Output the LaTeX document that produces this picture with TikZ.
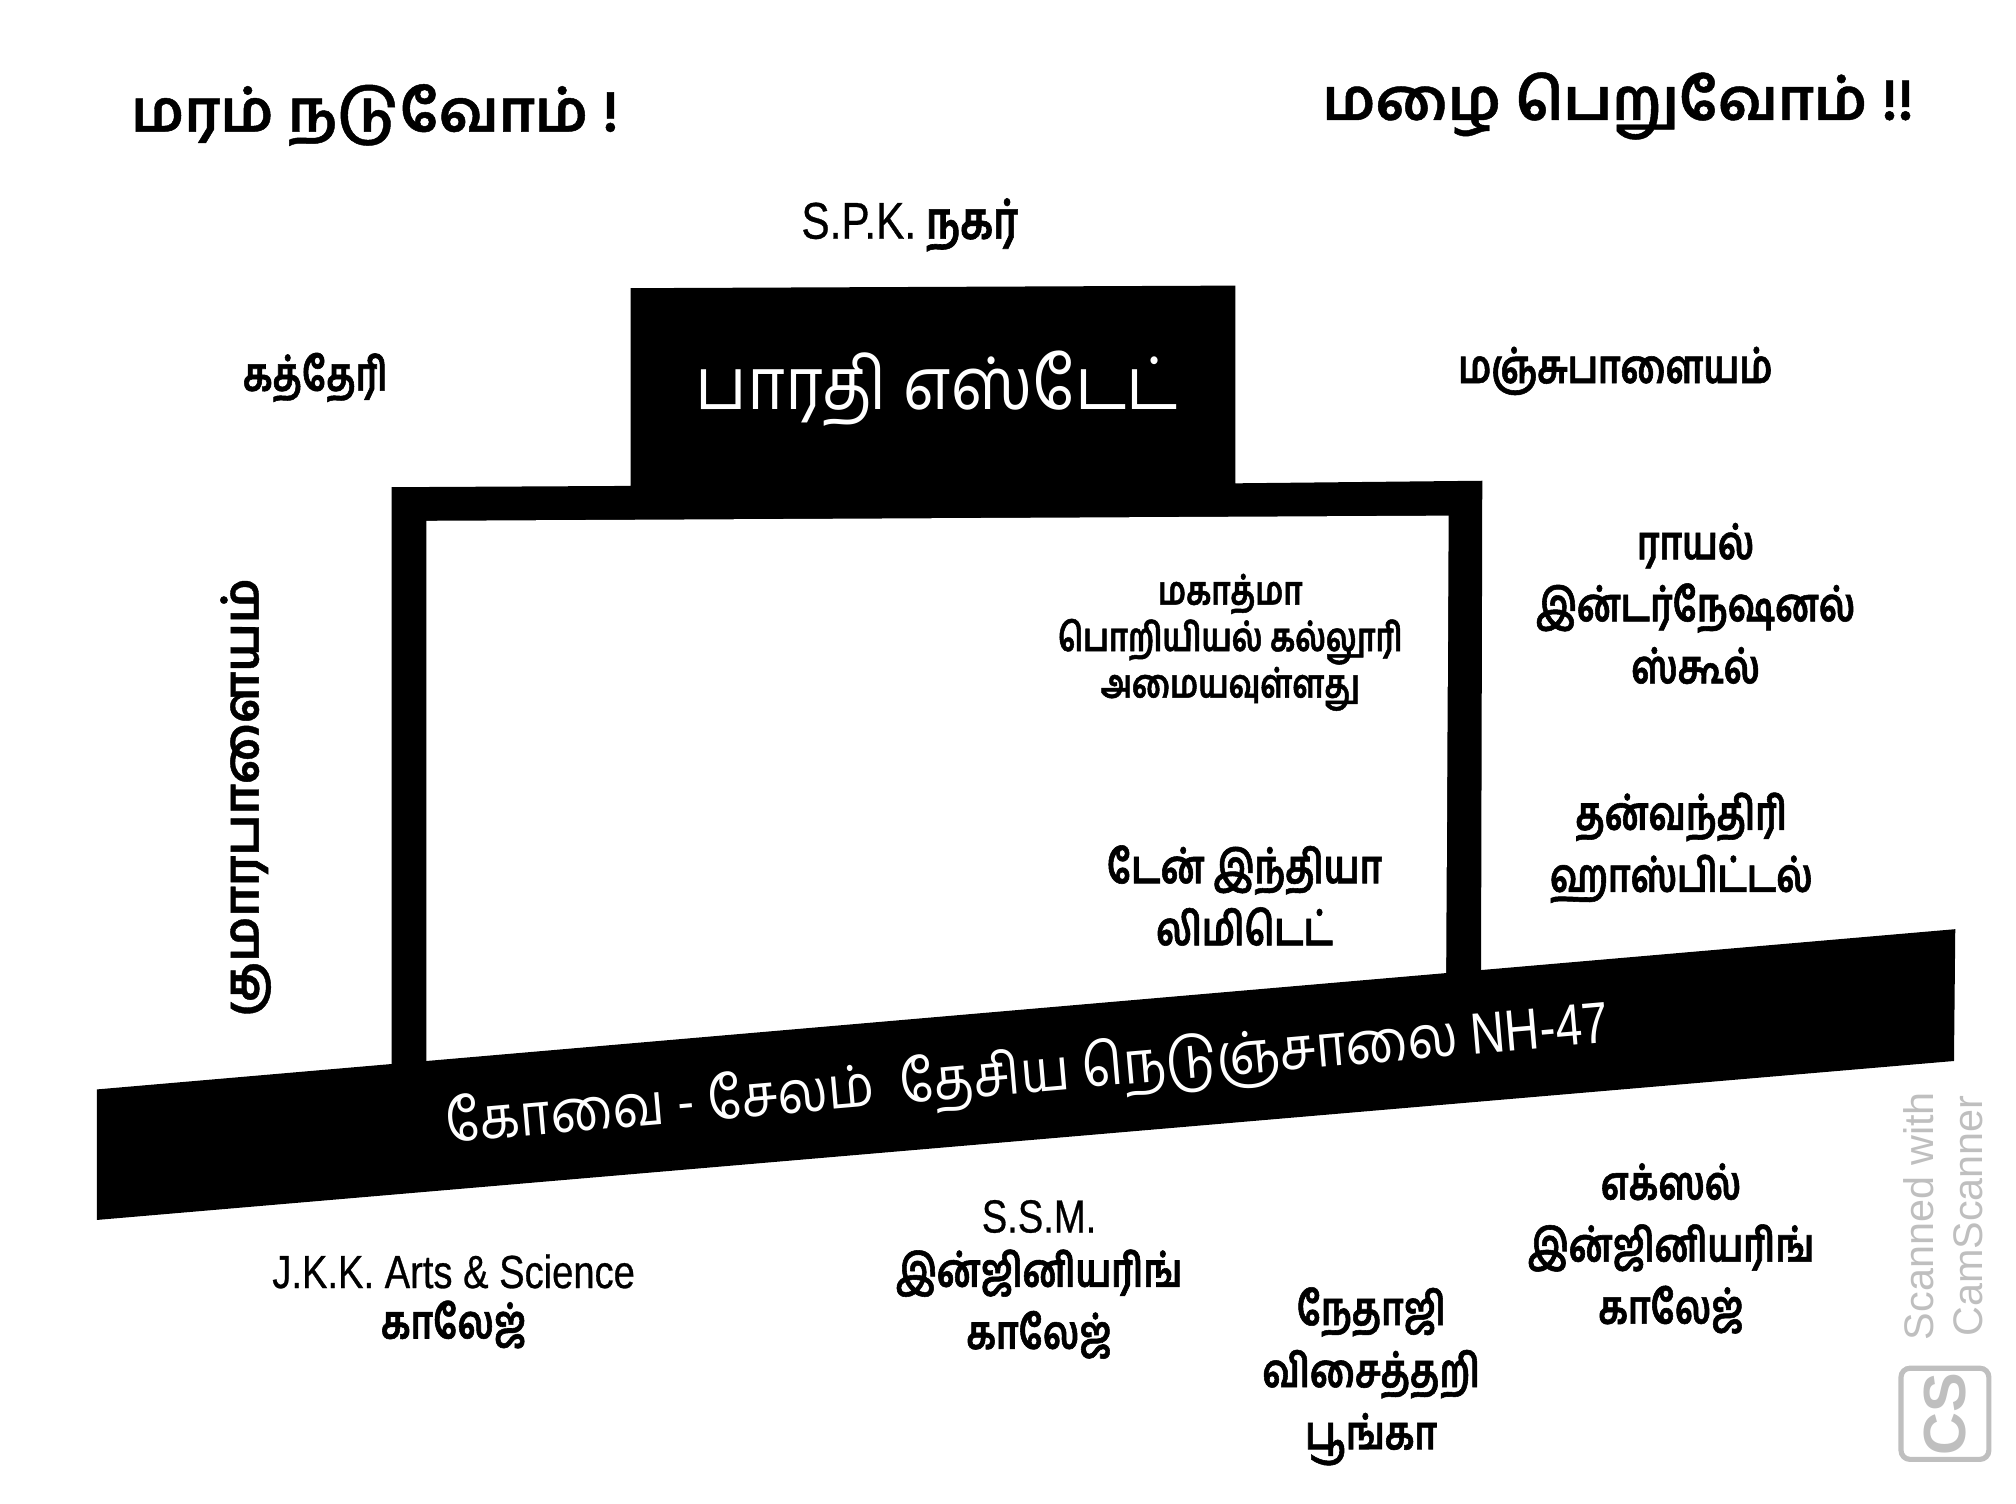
\documentclass[tikz,border=0pt]{standalone}
\usepackage{fontspec}
\newfontfamily\tamilfont[Script=Tamil,FakeStretch=0.78,FakeBold=1.2]{Hind Madurai}
\newfontfamily\tamilmid[Script=Tamil,FakeStretch=0.9]{Hind Madurai}
\newfontfamily\tamilwide[Script=Tamil,FakeBold=0.8]{Hind Madurai}
\newfontfamily\latinfont[FakeStretch=0.82,FakeBold=0.6]{Liberation Sans}
\newfontfamily\roadlatin[FakeStretch=0.82]{Liberation Sans}
\newfontfamily\scanfont{Liberation Sans}
\usetikzlibrary{positioning}

\begin{document}
\begin{tikzpicture}[
    x=1pt,
    y=-1pt,
    place/.style={
		align=center,
		inner sep=0pt,
		text=black
	},
	hugelabel/.style={
		place,
		font=\tamilwide\bfseries\fontsize{45}{58}\selectfont
	},
	biglabel/.style={
		place,
		font=\tamilfont\bfseries\fontsize{36}{48}\selectfont
	},
	smalllabel/.style={
		place,
		font=\tamilfont\bfseries\fontsize{30.5}{36}\selectfont
	},
	whitelabel/.style={
		place,
		text=white,
		font=\tamilmid\fontsize{56}{60}\selectfont
	},
	scanlabel/.style={
		place,
		text=black!25,
		font=\scanfont\fontsize{32}{38}\selectfont
	}
  ]
    % page size first
  \useasboundingbox (0,0) rectangle (1560,1163.8);

    % We start by placing the blocks
  \fill [black] (303,377) -- (488,376) -- (488,223) -- (956,221) -- (956,374) -- (1147,372) -- (1146,760) -- (303,830) -- cycle;
  \fill [white] (330,403) -- (1121,399) -- (1119,760) -- (330,826) -- cycle;
  \fill [black] (75,843) -- (1513,719) -- (1512,821) -- (75,944) -- cycle;

  \node [hugelabel] (nadu) at (290,89) {மரம் நடுவோம் !};
  \node [hugelabel] (mazhai) at (1252,82) {மழை பெறுவோம் !!};

  \node [biglabel, font=\tamilfont\bfseries\fontsize{40}{48}\selectfont] (spk) at (704,174) {{\latinfont\mdseries S.P.K.} நகர்};
  \node [biglabel] (kath) at (244,292) {கத்தேரி};
  \node [biglabel] (manju) at (1250,287) {மஞ்சுபாளையம்};
  \node [biglabel, rotate=90, font=\tamilwide\bfseries\fontsize{38}{48}\selectfont] (kumara) at (190,617) {குமாரபாளையம்};

  \node [whitelabel] (estate) at (725,301) {பாரதி எஸ்டேட்};
  \node [whitelabel, rotate=4.93, font=\tamilmid\fontsize{45}{54}\selectfont] (road) at (795,833)
 {கோவை - சேலம்\ \ தேசிய நெடுஞ்சாலை {\roadlatin NH-47}};

  \node [smalllabel] (mahatma) at (952,497)
 {மகாத்மா\\
  பொறியியல் கல்லூரி\\
  அமையவுள்ளது};
  \node [biglabel] (dan) at (963,693)
 {டேன் இந்தியா\\
  லிமிடெட்};
  \node [biglabel] (royal) at (1312,467)
 {ராயல்\\
  இன்டர்நேஷனல்\\
  ஸ்கூல்};
  \node [biglabel] (dhan) at (1301,656)
 {தன்வந்திரி\\
  ஹாஸ்பிட்டல்};

  \node [biglabel] (jkk) at (351,1007)
 {{\latinfont\mdseries J.K.K. Arts \& Science}\\[-9pt]
  காலேஜ்};
  \node [biglabel] (ssm) at (804,990)
 {{\latinfont\mdseries S.S.M.}\\[-6pt]
  இன்ஜினியரிங்\\
  காலேஜ்};
  \node [biglabel] (netaji) at (1061,1065)
 {நேதாஜி\\
  விசைத்தறி\\
  பூங்கா};
  \node [biglabel] (excel) at (1293,966)
 {எக்ஸல்\\
  இன்ஜினியரிங்\\
  காலேஜ்};

  \node [scanlabel, rotate=90] (scan) at (1504,941)
 {Scanned with\\
  CamScanner};
  \node [draw=black!25, line width=4pt, rounded corners=7pt, minimum width=70pt, minimum height=68pt,
    text=black!25, rotate=90, font=\scanfont\bfseries\fontsize{46}{46}\selectfont] (cslogo) at (1505,1094) {CS};

\end{tikzpicture}
\end{document}
